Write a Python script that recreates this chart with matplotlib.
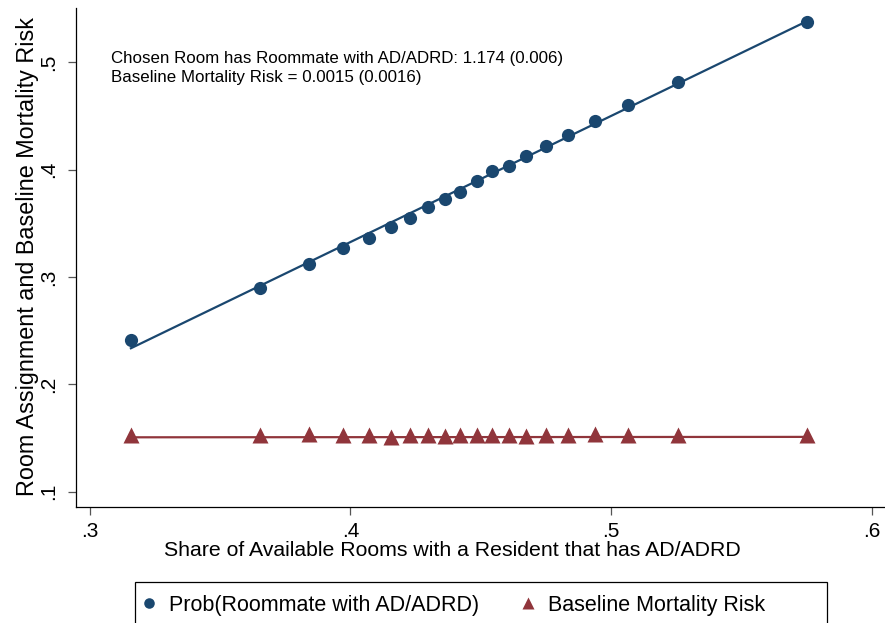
import numpy as np
import matplotlib.pyplot as plt
from matplotlib.patches import Rectangle

plt.rcParams['font.family'] = ['Liberation Sans', 'DejaVu Sans']

# binned data
share = [0.3157, 0.3653, 0.3841, 0.3971, 0.4071, 0.4155, 0.4228, 0.4298, 0.4363, 0.4420,
         0.4486, 0.4543, 0.4608, 0.4674, 0.4750, 0.4835, 0.4939, 0.5065, 0.5257, 0.5752]
prob_roommate = [0.2411, 0.2898, 0.3119, 0.3270, 0.3363, 0.3466, 0.3550, 0.3652, 0.3727, 0.3791,
                 0.3894, 0.3988, 0.4034, 0.4127, 0.4220, 0.4323, 0.4453, 0.4602, 0.4817, 0.5376]
baseline_risk = [0.1530, 0.1530, 0.1536, 0.1530, 0.1530, 0.1514, 0.1524, 0.1524, 0.1518, 0.1524,
                 0.1524, 0.1530, 0.1530, 0.1521, 0.1530, 0.1524, 0.1536, 0.1530, 0.1530, 0.1530]

# fitted lines
fit_slope, fit_intercept = 1.174, -0.1370
base_slope, base_intercept = 0.0015, 0.1502

blue = '#1a476f'
red = '#90353b'

fig = plt.figure(figsize=(8.85, 6.23), dpi=100)
ax = fig.add_axes([76/885, 1 - 506.7/623, 809/885, 498.7/623])

xs = np.array([min(share), max(share)])
ax.plot(xs, fit_intercept + fit_slope * xs, color=blue, lw=1.6, zorder=2)
ax.plot(xs, base_intercept + base_slope * xs, color=red, lw=1.6, zorder=2)
ax.plot(share, prob_roommate, 'o', color=blue, ms=9.5, mec='none', zorder=3,
        label='Prob(Roommate with AD/ADRD)')
ax.plot(share, baseline_risk, '^', color=red, ms=11, mec='none', zorder=3,
        label='Baseline Mortality Risk')

ax.set_xlim(0.29463, 0.60518)
ax.set_ylim(0.08603, 0.5506)
ax.set_xticks([0.3, 0.4, 0.5, 0.6])
ax.set_xticklabels(['.3', '.4', '.5', '.6'])
ax.set_yticks([0.1, 0.2, 0.3, 0.4, 0.5])
ax.set_yticklabels(['.1', '.2', '.3', '.4', '.5'], rotation=90, va='center')
ax.tick_params(labelsize=15, length=6, width=0.9, color='#555555')
ax.tick_params(axis='x', pad=5)
ax.tick_params(axis='y', pad=7)
for s in ['top', 'right']:
    ax.spines[s].set_visible(False)
for s in ['left', 'bottom']:
    ax.spines[s].set_linewidth(0.9)

ax.set_xlabel('Share of Available Rooms with a Resident that has AD/ADRD', fontsize=15.3)
ax.set_ylabel('Room Assignment and Baseline Mortality Risk', fontsize=16.8)
ax.xaxis.label.set_va('center')
ax.yaxis.label.set_va('center')
ax.xaxis.set_label_coords((452 - 76) / 809, -(551 - 506.7) / 498.7)
ax.yaxis.set_label_coords(-(76 - 28) / 809, (506.7 - 257) / 498.7)

ax.text(0.0433, 0.9138,
        'Chosen Room has Roommate with AD/ADRD: 1.174 (0.006)\nBaseline Mortality Risk = 0.0015 (0.0016)',
        transform=ax.transAxes, fontsize=12.2, va='top', ha='left', linespacing=1.35)

# legend
handles, labels = ax.get_legend_handles_labels()
fig.legend(handles, labels, loc='center left', bbox_to_anchor=(130/885, 1 - 605/623),
           ncol=2, frameon=False, fontsize=15.5, handlelength=0.8, handletextpad=0.5,
           columnspacing=1.9, borderpad=0, markerscale=0.8)
fig.add_artist(Rectangle((135/885, -0.05), (826.7 - 135)/885, 0.05 + 1 - 582/623,
                         transform=fig.transFigure, fill=False, ec='black', lw=0.9))

fig.savefig('out.png', dpi=100)
